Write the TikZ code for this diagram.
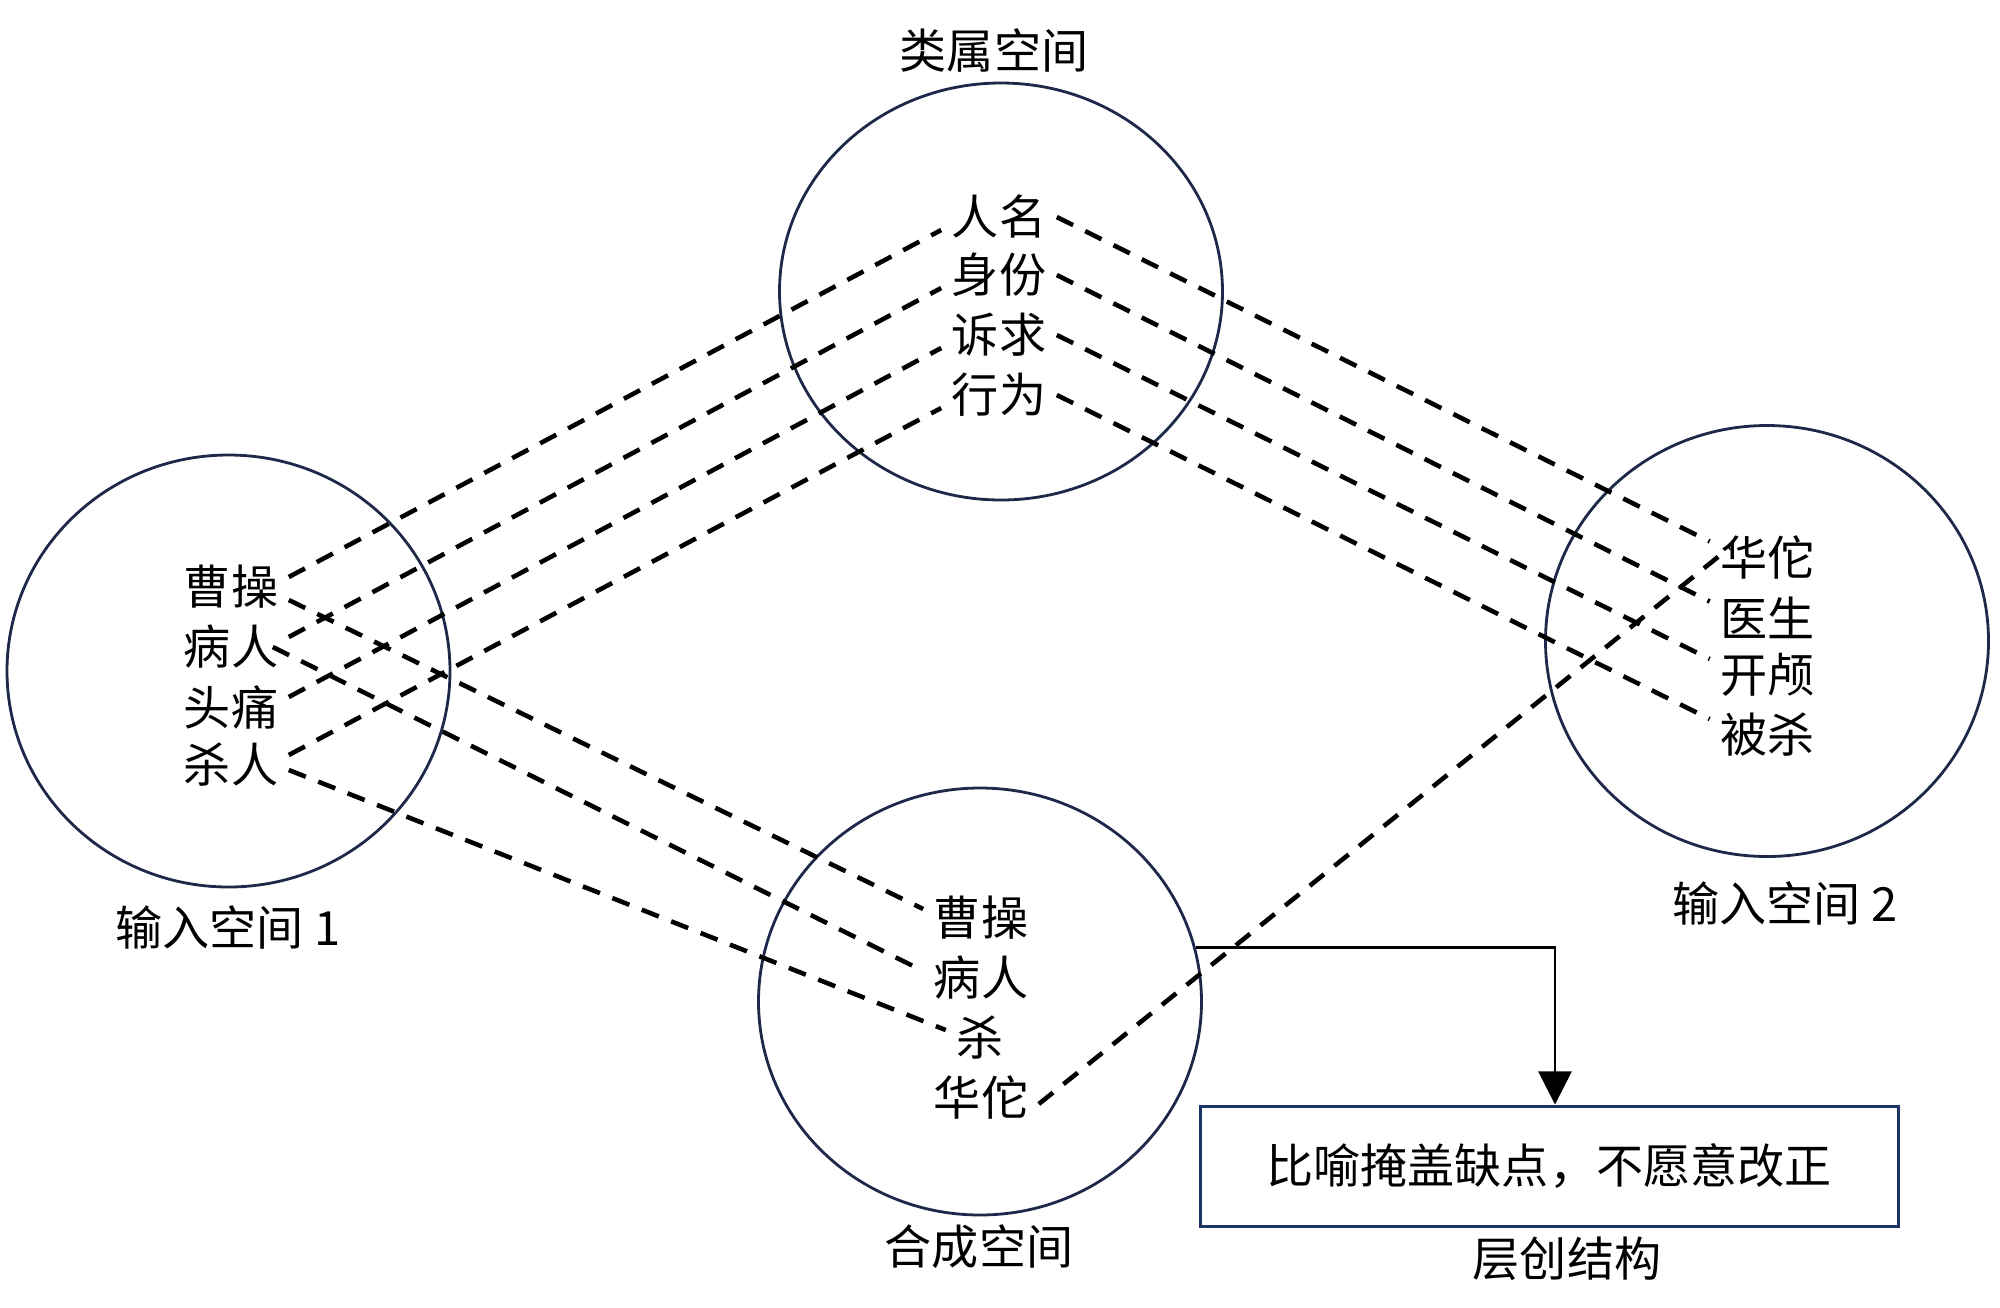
\documentclass[tikz,border=0pt]{standalone}
\usepackage{fontspec}
\newfontfamily\cjk{Noto Sans CJK SC}
\usetikzlibrary{shapes.geometric,arrows.meta}
\definecolor{navy}{RGB}{30,40,72}
\definecolor{boxblue}{RGB}{28,52,102}
\begin{document}
\begin{tikzpicture}[x=1cm,y=1cm,
  space/.style={draw=navy,line width=0.8pt,ellipse,minimum width=4.43cm,minimum height=4.27cm,inner sep=0pt},
  word/.style={font=\cjk\fontsize{13.4}{16}\selectfont,inner sep=0.1cm},
  link/.style={line width=1.3pt,dash pattern=on 5.2pt off 3.8pt}]
\useasboundingbox (0,0) rectangle (20,-13.07);
\node[space,minimum height=4.17cm] (generic) at (10.01,-2.915) {};
\node[space,minimum height=4.32cm] (input1) at (2.285,-6.71) {};
\node[space,minimum height=4.31cm] (input2) at (17.67,-6.41) {};
\node[space] (blend) at (9.80,-10.015) {};
\node[word] (lgeneric) at (9.94,-0.50) {类属空间};
\node[word] (linput1) at (2.28,-9.27) {输入空间 1};
\node[word] (linput2) at (17.85,-9.03) {输入空间 2};
\node[word] (lblend) at (9.79,-12.47) {合成空间};
\node[word] (lemergent) at (15.67,-12.59) {层创结构};
\node[word] (renming) at (9.99,-2.17) {人名};
\node[word] (shenfen) at (9.99,-2.75) {身份};
\node[word] (suqiu) at (9.99,-3.35) {诉求};
\node[word] (xingwei) at (9.99,-3.95) {行为};
\node[word] (caoL) at (2.31,-5.87) {曹操};
\node[word] (bingL) at (2.31,-6.47) {病人};
\node[word] (tongL) at (2.31,-7.07) {头痛};
\node[word] (shaL) at (2.31,-7.65) {杀人};
\node[word] (huatuoR) at (17.675,-5.575) {华佗};
\node[word] (yisheng) at (17.675,-6.175) {医生};
\node[word] (kailu) at (17.675,-6.75) {开颅};
\node[word] (beisha) at (17.675,-7.35) {被杀};
\node[word] (caoB) at (9.81,-9.18) {曹操};
\node[word] (bingB) at (9.81,-9.78) {病人};
\node[word] (shaB) at (9.80,-10.38) {杀};
\node[word] (huatuoB) at (9.81,-10.97) {华佗};
\node[word,draw=boxblue,line width=0.85pt,minimum width=6.98cm,minimum height=1.20cm,inner sep=0pt] (emergent) at (15.49,-11.66) {比喻掩盖缺点，不愿意改正};
\foreach \a/\b in {caoL/renming,bingL/shenfen,tongL/suqiu,shaL/xingwei}
  \draw[link] ([yshift=1mm]\a.east) -- ([yshift=-1.3mm]\b.west);
\foreach \a/\b in {renming/huatuoR,shenfen/yisheng,suqiu/kailu,xingwei/beisha}
  \draw[link] (\a.east) -- ([yshift=1.6mm]\b.west);
\draw[link] ([yshift=-1.3mm]caoL.east) -- ([yshift=0.9mm]caoB.west);
\draw[link] ([xshift=-1.6mm]bingL.east) -- ([yshift=0.7mm]bingB.west);
\draw[link] ([yshift=-0.5mm]shaL.east) -- ([yshift=0.8mm]shaB.west);
\draw[link] ([yshift=-0.7mm]huatuoB.east) -- ([xshift=2mm,yshift=1mm]huatuoR.west);
\draw[line width=0.75pt,-{Triangle[width=9.4pt,length=9.4pt]}] (blend.14) -| ([xshift=0.6mm]emergent.north);
\end{tikzpicture}
\end{document}
